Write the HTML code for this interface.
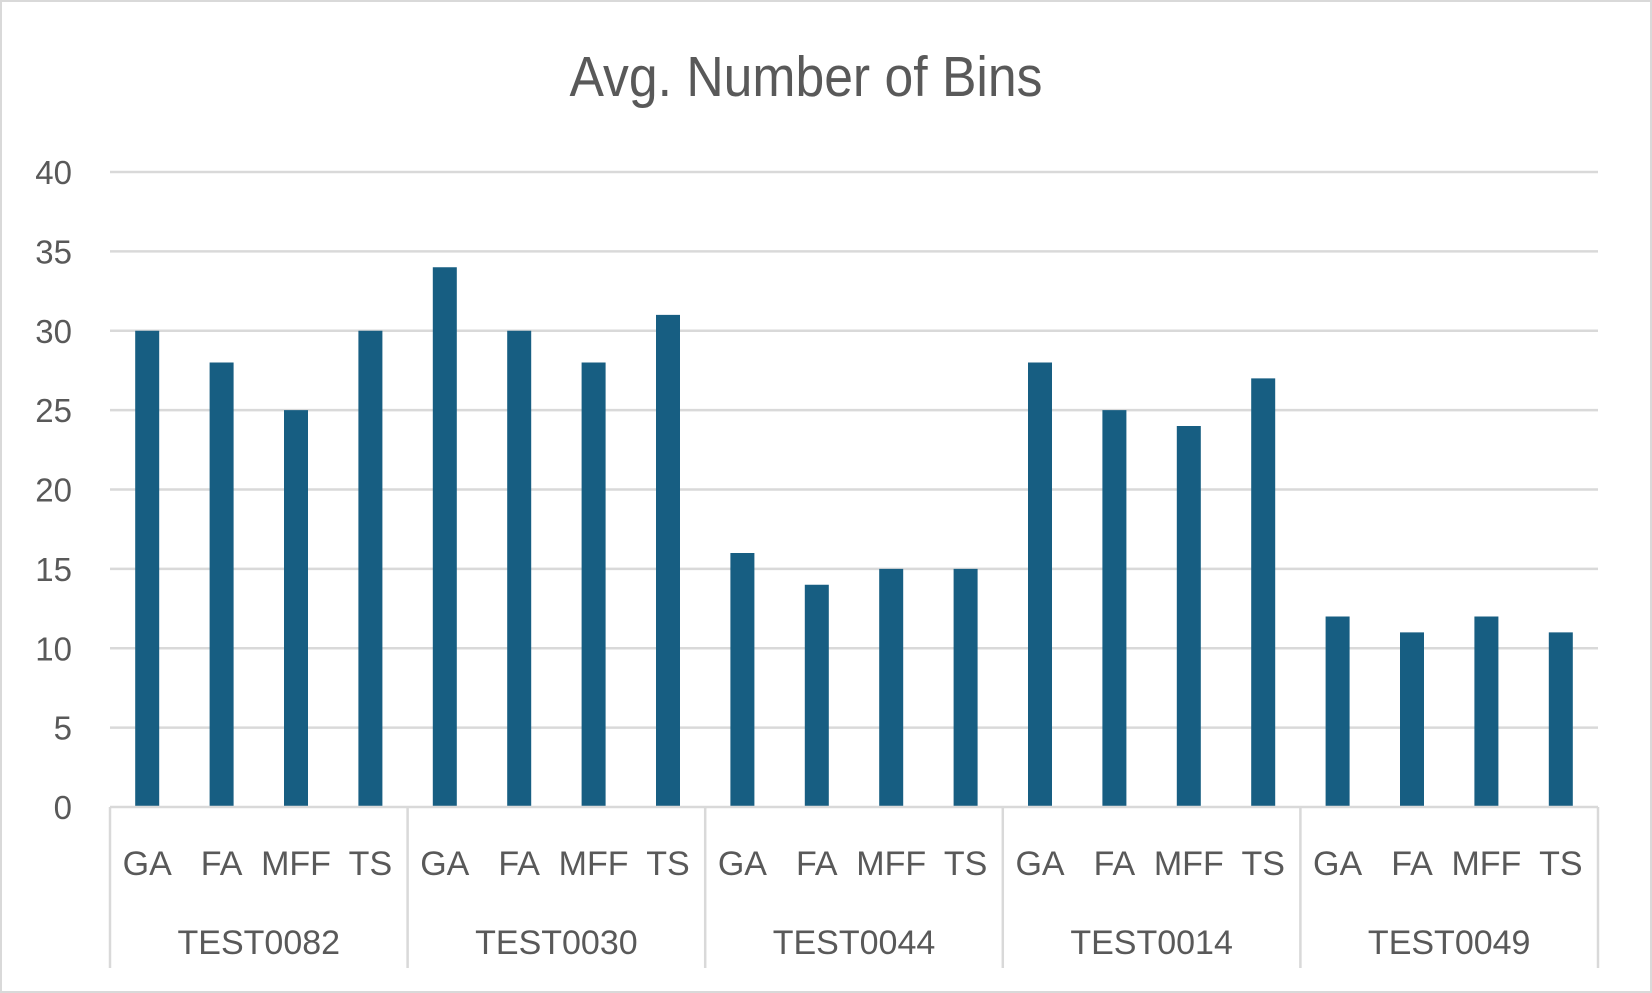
<!DOCTYPE html>
<html><head><meta charset="utf-8"><style>
html,body{margin:0;padding:0;background:#fff;}
svg{display:block;font-family:"Liberation Sans",sans-serif;}
</style></head><body>
<svg id="chart" width="1652" height="993" viewBox="0 0 1652 993">
<rect x="1" y="1" width="1650" height="991" fill="#fff" stroke="#d9d9d9" stroke-width="2"/>
<text x="806" y="96" text-anchor="middle" font-size="57" fill="#595959" textLength="473" lengthAdjust="spacingAndGlyphs">Avg. Number of Bins</text>
<g id="grid"></g><g id="bars"></g><g id="axis"></g>
</svg>
<script>
const groups = ["TEST0082","TEST0030","TEST0044","TEST0014","TEST0049"];
const methods = ["GA","FA","MFF","TS"];
const values = [
  [30,28,25,30],
  [34,30,28,31],
  [16,14,15,15],
  [28,25,24,27],
  [12,11,12,11]
];
const yTicks = [0,5,10,15,20,25,30,35,40];

const NS="http://www.w3.org/2000/svg";
const plotLeft=110, plotRight=1598, plotTop=172, plotBase=807, yMax=40;
const gW=(plotRight-plotLeft)/groups.length, cW=gW/methods.length, barW=24;
const yS=v=>plotBase-(v/yMax)*(plotBase-plotTop);
const xS=(g,m)=>plotLeft+g*gW+(m+0.5)*cW;
function mk(tag,attrs,parent){const e=document.createElementNS(NS,tag);for(const k in attrs)e.setAttribute(k,attrs[k]);parent.appendChild(e);return e;}
const grid=document.getElementById('grid'),bars=document.getElementById('bars'),axis=document.getElementById('axis');
yTicks.forEach(t=>{
  if(t>0){const l=mk('line',{x1:plotLeft,x2:plotRight,y1:yS(t),y2:yS(t),stroke:'#d9d9d9','stroke-width':2.5},grid);
  
  }
  const tx=mk('text',{x:72,y:yS(t)+12,'text-anchor':'end','font-size':33,fill:'#595959'},axis);
  tx.textContent=t;
  
  
});
values.forEach((row,g)=>row.forEach((v,m)=>{
  const r=mk('rect',{x:xS(g,m)-barW/2,y:yS(v),width:barW,height:plotBase-yS(v),fill:'#175e82'},bars);
  
  
}));
const bl=mk('line',{x1:plotLeft,x2:plotRight,y1:plotBase,y2:plotBase,stroke:'#d9d9d9','stroke-width':2.5},axis);


for(let g=0;g<=groups.length;g++){
  const xx=plotLeft+g*gW;
  const l=mk('line',{x1:xx,x2:xx,y1:plotBase,y2:968,stroke:'#d9d9d9','stroke-width':2.5},axis);
  
  
}
groups.forEach((gName,g)=>{
  methods.forEach((mName,m)=>{
    const t=mk('text',{x:xS(g,m),y:875,'text-anchor':'middle','font-size':34,fill:'#595959'},axis);
    t.textContent=mName;
    
    
  });
  const t=mk('text',{x:plotLeft+(g+0.5)*gW,y:954,'text-anchor':'middle','font-size':34,fill:'#595959'},axis);
  t.textContent=gName;
  
  
});
</script>
</body></html>
